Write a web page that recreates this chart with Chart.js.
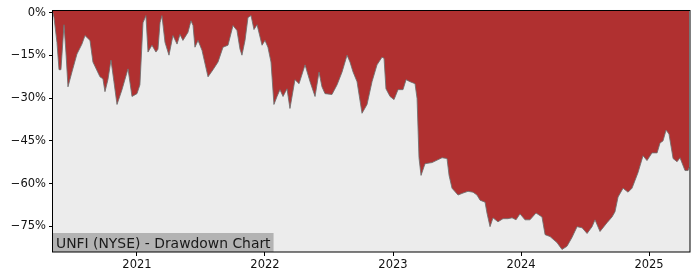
<!DOCTYPE html>
<html>
<head>
<meta charset="utf-8">
<script src="https://cdn.jsdelivr.net/npm/chart.js@4/dist/chart.umd.min.js"></script>
<style>
  html, body { margin:0; padding:0; background:#fff; }
  #wrap { width:700px; height:280px; position:relative; }
</style>
</head>
<body>
<div id="wrap"><canvas id="dd"></canvas></div>
<script>
// drawdown of UNFI, x in decimal years, y in percent below running peak
const years = [2020.344,2020.352,2020.375,2020.391,2020.406,2020.430,2020.445,2020.461,2020.492,2020.531,
  2020.570,2020.594,2020.633,2020.656,2020.711,2020.734,2020.750,2020.773,2020.797,2020.820,
  2020.844,2020.883,2020.930,2020.961,2021.000,2021.023,2021.047,2021.070,2021.086,2021.117,
  2021.148,2021.164,2021.180,2021.195,2021.219,2021.250,2021.281,2021.313,2021.336,2021.359,
  2021.398,2021.422,2021.438,2021.453,2021.477,2021.508,2021.555,2021.594,2021.633,2021.672,
  2021.711,2021.750,2021.781,2021.805,2021.820,2021.844,2021.867,2021.891,2021.914,2021.938,
  2021.977,2022.000,2022.023,2022.047,2022.070,2022.094,2022.117,2022.141,2022.172,2022.195,
  2022.234,2022.266,2022.313,2022.352,2022.391,2022.422,2022.445,2022.469,2022.523,2022.563,
  2022.602,2022.641,2022.664,2022.688,2022.719,2022.758,2022.797,2022.836,2022.875,2022.914,
  2022.930,2022.945,2022.977,2023.008,2023.039,2023.078,2023.102,2023.133,2023.172,2023.188,
  2023.203,2023.219,2023.250,2023.305,2023.383,2023.422,2023.438,2023.461,2023.508,2023.547,
  2023.586,2023.625,2023.656,2023.680,2023.719,2023.734,2023.758,2023.781,2023.820,2023.859,
  2023.898,2023.930,2023.961,2023.992,2024.031,2024.070,2024.117,2024.164,2024.188,2024.227,
  2024.281,2024.320,2024.359,2024.398,2024.438,2024.477,2024.516,2024.555,2024.578,2024.617,
  2024.672,2024.711,2024.734,2024.758,2024.797,2024.836,2024.867,2024.891,2024.914,2024.953,
  2024.984,2025.023,2025.063,2025.086,2025.109,2025.133,2025.156,2025.188,2025.219,2025.242,
  2025.281,2025.305,2025.313];
const drawdown = [0,-1.7,-10.4,-20,-20,-4.2,-13.8,-26,-20.8,-14.5,
  -11,-8,-9.7,-17.3,-22.5,-23.2,-27.7,-23.5,-16.6,-24.2,
  -32.2,-27,-19.7,-29.4,-28.4,-25.3,-3.5,-1,-13.8,-11.4,
  -13.8,-12.8,-3.5,-1,-10.4,-14.9,-8,-11,-7.6,-9.7,
  -6.9,-2.8,-4.5,-12.1,-9.7,-13.2,-22.5,-20,-17.3,-12.1,
  -11.4,-4.5,-6.2,-12.8,-14.9,-9.7,-1.7,-1,-5.9,-4.2,
  -11.4,-9.7,-12.1,-17.3,-32.2,-29.4,-27,-29.4,-26.7,-33.6,
  -23.5,-24.9,-18.3,-24.2,-29.4,-20.8,-26,-28.4,-28.7,-25.3,
  -20.8,-14.9,-17.3,-20.8,-24.2,-35.3,-32.2,-24.2,-18.3,-15.6,
  -16,-26.7,-29.4,-30.5,-27,-27,-23.5,-24.2,-24.9,-30.1,
  -50.9,-57.1,-53,-52.6,-50.9,-51.2,-57.1,-61.6,-64,-63.3,
  -62.7,-63,-64,-65.8,-66.5,-70.3,-75.1,-72,-73.4,-72.3,
  -72.3,-72,-72.7,-70.6,-72.7,-72.7,-70.3,-71.7,-77.9,-78.6,
  -80.7,-83.1,-82,-78.9,-75.1,-75.5,-77.5,-75.1,-72.7,-76.8,
  -73.7,-71.7,-69.9,-64.7,-61.6,-63,-61.6,-58.8,-56.1,-50.2,
  -51.9,-49.2,-49.2,-45.7,-45,-41.2,-42.6,-51.2,-52.3,-50.9,
  -55.4,-55.4,-54.3];
const yearTicks = [2021, 2022, 2023, 2024, 2025];
const pctTicks = [0, -15, -30, -45, -60, -75];
const title = 'UNFI (NYSE) - Drawdown Chart';

const points = years.map((x, i) => ({ x: x, y: drawdown[i] }));
const font = 'DejaVu Sans';

const frame = {
  id: 'frame',
  beforeDraw(c){
    const a = c.chartArea, ctx = c.ctx;
    ctx.save(); ctx.fillStyle = '#ececec';
    ctx.fillRect(a.left, a.top, a.right - a.left, a.bottom - a.top);
    ctx.restore();
  },
  afterDraw(c){
    const a = c.chartArea, ctx = c.ctx;
    ctx.save();
    // caption box bottom-left
    ctx.font = '13.9px "' + font + '"';
    const w = ctx.measureText(title).width;
    ctx.fillStyle = '#b3b3b3';
    ctx.fillRect(a.left, a.bottom - 19, w + 6, 19);
    ctx.fillStyle = '#1a1a1a'; ctx.textBaseline = 'alphabetic';
    ctx.fillText(title, a.left + 3, a.bottom - 4);
    ctx.strokeStyle = '#000'; ctx.lineWidth = 1;
    ctx.strokeRect(Math.round(a.left) - 0.5, Math.round(a.top) + 0.5,
      Math.round(a.right - a.left) + 0.5, Math.round(a.bottom - a.top) - 0.5);
    ctx.restore();
  }
};

new Chart(document.getElementById('dd'), {
  type: 'line',
  data: { datasets: [{
    data: points,
    fill: 'end',
    backgroundColor: '#b03030',
    borderColor: 'rgba(110,110,110,0.85)',
    borderWidth: 1,
    pointRadius: 0,
    tension: 0
  }]},
  options: {
    responsive: true, maintainAspectRatio: false, animation: false,
    layout: { padding: { top: 7, right: 10, left: 0, bottom: 0 } },
    plugins: { legend: { display: false }, tooltip: { enabled: false } },
    scales: {
      x: {
        type: 'linear', min: 2020.344, max: 2025.32,
        afterBuildTicks: s => { s.ticks = yearTicks.map(v => ({ value: v })); },
        afterFit: s => { s.height = 28; },
        grid: { drawOnChartArea: false, color: '#000', tickLength: 4 },
        border: { display: false },
        ticks: { color: '#111', font: { family: font, size: 11.5 }, padding: 2, maxRotation: 0,
          callback: v => String(v) }
      },
      y: {
        min: -84, max: 1,
        afterBuildTicks: s => { s.ticks = pctTicks.map(v => ({ value: v })); },
        afterFit: s => { s.width = 53; },
        grid: { drawOnChartArea: false, color: '#000', tickLength: 4 },
        border: { display: false },
        ticks: { color: '#111', font: { family: font, size: 11.5 }, padding: 3,
          callback: v => v === 0 ? '0%' : '\u2212' + Math.abs(v) + '%' }
      }
    }
  },
  plugins: [frame]
});
</script>
</body>
</html>
